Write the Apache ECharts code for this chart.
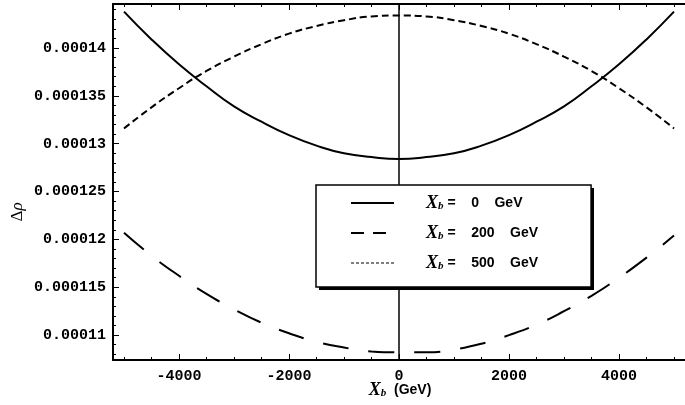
<!DOCTYPE html>
<html>
<head>
<meta charset="utf-8">
<script src="https://cdn.jsdelivr.net/npm/echarts@6/dist/echarts.min.js"></script>
<style>html,body{margin:0;padding:0;background:#fff}#c{width:685px;height:405px}</style>
</head>
<body>
<div id="c"></div>
<script>
// X_b values (GeV)
const xb = [-5000, -4500, -4000, -3500, -3000, -2500, -2000, -1500, -1000, -500, 0,
            500, 1000, 1500, 2000, 2500, 3000, 3500, 4000, 4500, 5000];
// Delta rho, X_b = 0 GeV (solid)
const rho0 = [0.0001438, 0.0001409, 0.0001383, 0.0001360, 0.0001339, 0.0001323, 0.0001309, 0.0001298, 0.0001290, 0.0001286, 0.0001284,
              0.0001286, 0.0001290, 0.0001298, 0.0001309, 0.0001323, 0.0001339, 0.0001360, 0.0001383, 0.0001409, 0.0001438];
// Delta rho, X_b = 200 GeV (long dashes)
const rho200 = [0.0001207, 0.0001183, 0.0001162, 0.0001143, 0.0001127, 0.0001113, 0.0001102, 0.0001093, 0.0001087, 0.0001083, 0.0001082,
                0.0001082, 0.0001085, 0.0001091, 0.0001100, 0.0001111, 0.0001125, 0.0001141, 0.0001160, 0.0001181, 0.0001204];
// Delta rho, X_b = 500 GeV (short dashes)
const rho500 = [0.0001316, 0.0001338, 0.0001358, 0.0001376, 0.0001391, 0.0001404, 0.0001415, 0.0001423, 0.0001429, 0.0001433, 0.0001434,
                0.0001433, 0.0001429, 0.0001423, 0.0001415, 0.0001404, 0.0001391, 0.0001376, 0.0001358, 0.0001338, 0.0001316];
const seriesNames = ['X_b = 0 GeV', 'X_b = 200 GeV', 'X_b = 500 GeV'];
const legendValues = ['0', '200', '500'];
// axis ranges
const xMin = -5200, xMax = 5200;
const yMin = 0.0001074, yMax = 0.0001446;
// vertical axis line at X_b = 0, in two pieces (the legend box hides the middle)
const axisLowerY = [yMin, 0.000115];
const axisUpperY = [0.0001257, yMax];

const chart = echarts.init(document.getElementById('c'), null, {renderer: 'canvas'});
const pair = arr => xb.map((x, i) => [x, arr[i]]);
const vline = arr => arr.map(v => [0, v]);
const tickFont = {color: '#000', fontFamily: 'Liberation Mono', fontWeight: 'bold', fontSize: 15};

const xBase = {
  type: 'value', min: xMin, max: xMax, splitNumber: 5,
  axisLine: {show: true, onZero: false, lineStyle: {color: '#000', width: 2}},
  axisTick: {show: true, inside: true, length: 6, lineStyle: {color: '#000', width: 1}},
  minorTick: {show: true, splitNumber: 4, length: 3, lineStyle: {color: '#000', width: 1}},
  splitLine: {show: false}
};
const subRich = {
  x: {fontFamily: 'Liberation Serif', fontStyle: 'italic', fontWeight: 'bold', fontSize: 18, color: '#000', fill: '#000', lineHeight: 18},
  s: {fontFamily: 'Liberation Serif', fontStyle: 'italic', fontWeight: 'bold', fontSize: 11, color: '#000', fill: '#000', lineHeight: 8, verticalAlign: 'bottom'},
  t: {fontFamily: 'Liberation Sans', fontWeight: 'bold', fontSize: 14, color: '#000', fill: '#000', lineHeight: 18}
};
const axisLineSeries = (name, arr) => ({name: name, type: 'line', z: 1, data: vline(arr), symbol: 'none',
  silent: true, lineStyle: {color: '#000', width: 1.5}, itemStyle: {color: '#000'}});

chart.setOption({
  animation: false,
  backgroundColor: '#fff',
  grid: {left: 113, top: 4, width: 577, height: 356, containLabel: false},
  xAxis: [
    Object.assign({}, xBase, {position: 'bottom',
      axisLabel: Object.assign({}, tickFont, {margin: 9, showMinLabel: false, showMaxLabel: false,
        formatter: v => String(Math.round(v))})}),
    Object.assign({}, xBase, {position: 'top', axisLabel: {show: false}})
  ],
  yAxis: {
    type: 'value', min: yMin, max: yMax, splitNumber: 7,
    axisLine: {show: true, onZero: false, lineStyle: {color: '#000', width: 2}},
    axisTick: {show: true, inside: true, length: 6, lineStyle: {color: '#000', width: 1}},
    minorTick: {show: true, splitNumber: 5, length: 3, lineStyle: {color: '#000', width: 1}},
    splitLine: {show: false},
    axisLabel: Object.assign({}, tickFont, {margin: 7, showMinLabel: false, showMaxLabel: false,
      formatter: v => String(+Number(v).toPrecision(6))})
  },
  legend: {
    orient: 'vertical', left: 316, top: 185, padding: [9, 53, 15, 34], itemGap: 12,
    itemWidth: 43, itemHeight: 14, z: 20,
    backgroundColor: '#fff', borderColor: '#000', borderWidth: 1.5, borderRadius: 0,
    itemStyle: {color: 'rgba(0,0,0,0)', borderColor: 'rgba(0,0,0,0)', borderWidth: 0, opacity: 0},
    data: [
      {name: seriesNames[0], lineStyle: {type: 'solid', width: 2, color: '#000'}},
      {name: seriesNames[1], lineStyle: {type: [13, 9], width: 2, color: '#000'}},
      {name: seriesNames[2], lineStyle: {type: [3, 2], width: 1.2, color: '#000'}}
    ],
    formatter: name => {
      const i = seriesNames.indexOf(name);
      return '{x|X}{s|b}{t| =    ' + legendValues[i] + '    GeV}';
    },
    textStyle: {color: '#000', padding: [0, 0, 0, 27], width: 150, rich: subRich}
  },
  graphic: [
    {type: 'rect', z: 10, shape: {x: 319, y: 188, width: 275, height: 102}, style: {fill: '#000'}},
    {type: 'text', z: 52, x: 18, y: 212, rotation: Math.PI / 2,
      style: {text: '{d|Δ}{r|ρ}', align: 'center', verticalAlign: 'middle',
        rich: {d: {fontFamily: 'Liberation Serif', fontSize: 17, fill: '#000'},
               r: {fontFamily: 'Liberation Serif', fontStyle: 'italic', fontSize: 17, fill: '#000'}}}},
    {type: 'text', z: 52, x: 400, y: 390,
      style: {text: '{x|X}{s|b}{t|  (GeV)}', align: 'center', verticalAlign: 'middle', rich: subRich}}
  ],
  series: [
    axisLineSeries('axisLower', axisLowerY),
    axisLineSeries('axisUpper', axisUpperY),
    {name: seriesNames[0], type: 'line', data: pair(rho0), smooth: true, symbol: 'none',
      lineStyle: {color: '#000', width: 2, type: 'solid'}, itemStyle: {color: '#000'}},
    {name: seriesNames[1], type: 'line', data: pair(rho200), smooth: true, symbol: 'none',
      lineStyle: {color: '#000', width: 2, type: [26, 20]}, itemStyle: {color: '#000'}},
    {name: seriesNames[2], type: 'line', data: pair(rho500), smooth: true, symbol: 'none',
      lineStyle: {color: '#000', width: 2, type: [7, 4]}, itemStyle: {color: '#000'}}
  ]
});
</script>
</body>
</html>
